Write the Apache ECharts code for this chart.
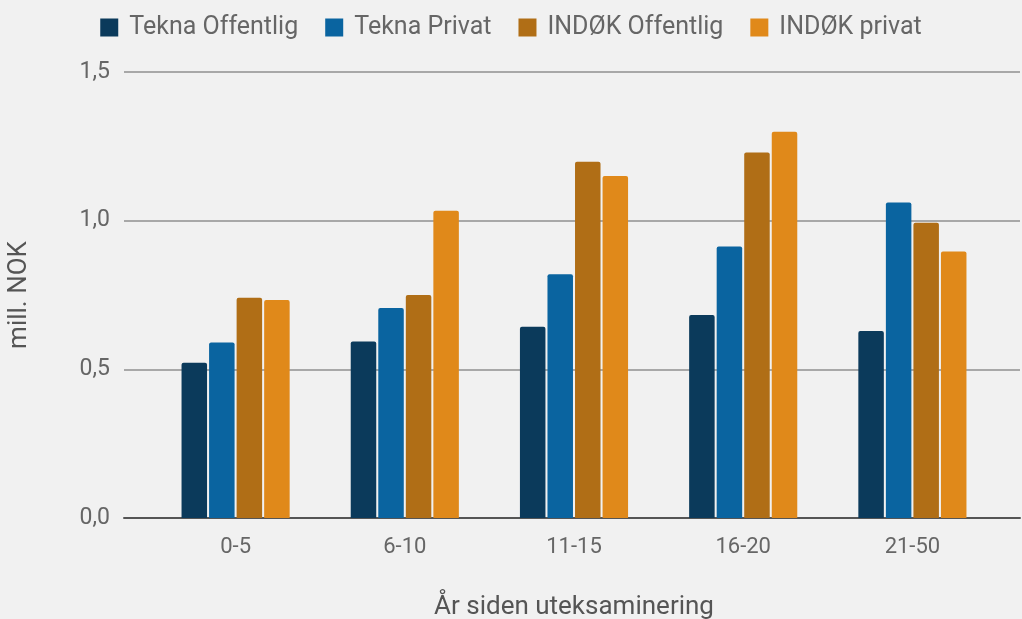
<!DOCTYPE html>
<html>
<head>
<meta charset="utf-8">
<script src="https://cdn.jsdelivr.net/npm/echarts@6/dist/echarts.min.js"></script>
<style>
  html, body { margin: 0; padding: 0; background: #f1f1f1; }
  #main { width: 1022px; height: 619px; }
</style>
</head>
<body>
<div id="main"></div>
<script>
// år siden uteksaminering
const categories = ['0-5', '6-10', '11-15', '16-20', '21-50'];
const seriesNames = ['Tekna Offentlig', 'Tekna Privat', 'INDØK Offentlig', 'INDØK privat'];
// mill. NOK
const teknaOffentlig = [0.522, 0.594, 0.643, 0.683, 0.629];
const teknaPrivat = [0.590, 0.706, 0.820, 0.913, 1.061];
const indokOffentlig = [0.741, 0.750, 1.198, 1.229, 0.993];
const indokPrivat = [0.733, 1.033, 1.150, 1.299, 0.896];
const yTicks = [0, 0.5, 1.0, 1.5];

const colors = ['#0b3a5b', '#0a64a0', '#b06e16', '#e0891a'];
const values = [teknaOffentlig, teknaPrivat, indokOffentlig, indokPrivat];
const font = 'Roboto, "Noto Sans", sans-serif';

const chart = echarts.init(document.getElementById('main'));
chart.setOption({
  backgroundColor: '#f1f1f1',
  color: colors,
  textStyle: { fontFamily: font },
  legend: {
    top: 10,
    left: 'center',
    data: seriesNames,
    itemWidth: 18,
    itemHeight: 18,
    itemGap: 27,
    icon: 'rect',
    textStyle: { fontSize: 25, color: '#666', fontFamily: font, padding: [0, 0, 0, 6] }
  },
  grid: [
    // grid lines and y labels over the full width
    { left: 124, right: 2, top: 72, bottom: 101, outerBoundsMode: 'none' },
    // bars
    { left: 151, right: 25, top: 72, bottom: 101, outerBoundsMode: 'none' }
  ],
  xAxis: [
    {
      gridIndex: 0, type: 'category', data: [''],
      axisLine: { show: true, lineStyle: { color: '#555', width: 2 } },
      axisTick: { show: false }, axisLabel: { show: false }
    },
    {
      gridIndex: 1, type: 'category', data: categories,
      axisLine: { show: false }, axisTick: { show: false },
      axisLabel: { fontSize: 22, color: '#666', margin: 18, fontFamily: font },
      name: 'År siden uteksaminering',
      nameLocation: 'middle',
      nameGap: 76,
      nameTextStyle: { fontSize: 26, color: '#555', fontFamily: font }
    }
  ],
  yAxis: [
    {
      gridIndex: 0, type: 'value', min: 0, max: 1.5, interval: 0.5,
      axisLine: { show: false }, axisTick: { show: false },
      splitLine: { lineStyle: { color: '#a8a8a8', width: 2 } },
      axisLabel: {
        fontSize: 23, color: '#666', margin: 14, fontFamily: font,
        formatter: v => yTicks.includes(v) ? v.toFixed(1).replace('.', ',') : ''
      },
      name: 'mill. NOK',
      nameLocation: 'middle',
      nameGap: 92,
      nameTextStyle: { fontSize: 26, color: '#555', fontFamily: font }
    },
    {
      gridIndex: 1, type: 'value', min: 0, max: 1.5, interval: 0.5,
      axisLine: { show: false }, axisTick: { show: false },
      splitLine: { show: false }, axisLabel: { show: false }
    }
  ],
  series: seriesNames.map((name, i) => ({
    name: name,
    type: 'bar',
    xAxisIndex: 1,
    yAxisIndex: 1,
    data: values[i],
    barWidth: 25.5,
    barGap: '8%',
    itemStyle: { color: colors[i], borderRadius: [2, 2, 0, 0] }
  }))
});
</script>
</body>
</html>
